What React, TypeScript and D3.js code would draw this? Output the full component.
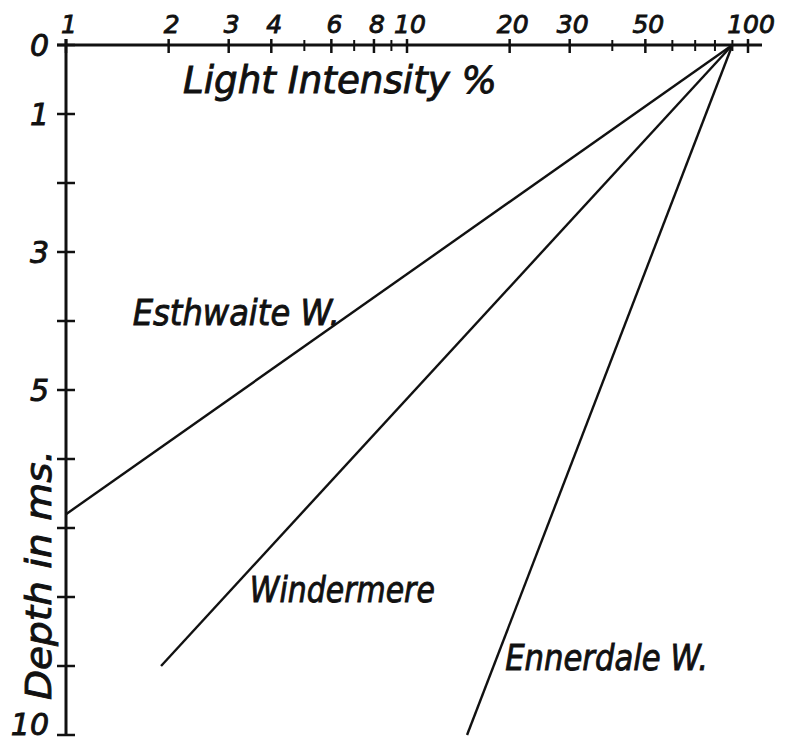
import React, { useEffect, useRef } from 'react';
import * as d3 from 'd3';

// light intensity (% of surface) ticks on the log axis
const xMajorTicks = [1, 2, 3, 4, 6, 8, 10, 20, 30, 50, 100];
const xMinorTicks = [5, 7, 9, 40, 60, 70, 80, 90];
// depth ticks (metres)
const yTicks = [0, 1, 2, 3, 4, 5, 6, 7, 8, 9, 10];
const yLabelled = [0, 1, 3, 5, 10];

const lakeNames = ['Esthwaite W.', 'Windermere', 'Ennerdale W.'];
const esthwaite = [{ light: 90, depth: 0 }, { light: 1, depth: 6.8 }];
const windermere = [{ light: 90, depth: 0 }, { light: 1.9, depth: 9.0 }];
const ennerdale = [{ light: 90, depth: 0 }, { light: 15, depth: 10 }];

const FONT = '"DejaVu Sans", sans-serif';

const LightChart = () => {
  const svgRef = useRef<SVGSVGElement>(null);

  useEffect(() => {
    const svg = d3.select(svgRef.current);
    svg.selectAll('*').remove();

    const width = 786;
    const height = 744;
    svg.attr('width', width).attr('height', height);

    svg.append('rect').attr('width', width).attr('height', height).attr('fill', 'white');

    const x = d3.scaleLog().domain([1, 100]).range([66, 748]);
    const y = d3.scaleLinear().domain([0, 10]).range([45, 735]);

    const ink = '#111';

    // hand-lettered look: a little stroke on the glyphs
    const letter = (sel: any, size: number) =>
      sel.style('font-family', FONT)
        .style('font-style', 'italic')
        .style('font-size', `${size}px`)
        .attr('fill', ink)
        .attr('stroke', ink)
        .attr('stroke-width', 0.9);

    // x axis line along the surface
    svg.append('line')
      .attr('x1', 57).attr('x2', 762)
      .attr('y1', y(0)).attr('y2', y(0))
      .attr('stroke', ink).attr('stroke-width', 3);

    // y axis line
    svg.append('line')
      .attr('x1', x(1)).attr('x2', x(1))
      .attr('y1', y(0) - 6).attr('y2', y(10))
      .attr('stroke', ink).attr('stroke-width', 3);

    svg.selectAll('.xmajor')
      .data(xMajorTicks)
      .enter().append('line')
      .attr('x1', d => x(d)).attr('x2', d => x(d))
      .attr('y1', y(0) - 6).attr('y2', y(0) + 8)
      .attr('stroke', ink).attr('stroke-width', 2.5);

    svg.selectAll('.xminor')
      .data(xMinorTicks)
      .enter().append('line')
      .attr('x1', d => x(d)).attr('x2', d => x(d))
      .attr('y1', y(0) - 5).attr('y2', y(0) + 6)
      .attr('stroke', ink).attr('stroke-width', 2);

    letter(svg.selectAll('.xlabel')
      .data(xMajorTicks)
      .enter().append('text')
      .attr('x', d => x(d) + 3)
      .attr('y', 33)
      .attr('text-anchor', 'middle'), 25)
      .text(d => d);

    svg.selectAll('.ytick')
      .data(yTicks)
      .enter().append('line')
      .attr('x1', x(1) - 9).attr('x2', x(1) + 9)
      .attr('y1', d => y(d)).attr('y2', d => y(d))
      .attr('stroke', ink).attr('stroke-width', 2.5);

    letter(svg.selectAll('.ylabel')
      .data(yLabelled)
      .enter().append('text')
      .attr('x', 49)
      .attr('y', d => y(d) + (d === 10 ? 0 : 11))
      .attr('text-anchor', 'end'), 30)
      .text(d => d);

    // axis titles
    letter(svg.append('text')
      .attr('x', 183).attr('y', 93)
      .attr('textLength', 314).attr('lengthAdjust', 'spacingAndGlyphs'), 37)
      .text('Light Intensity %');

    letter(svg.append('text')
      .attr('transform', 'translate(51,700) rotate(-90)')
      .attr('textLength', 250).attr('lengthAdjust', 'spacingAndGlyphs'), 36)
      .text('Depth in ms.');

    // lake lines
    const line = d3.line<{ light: number; depth: number }>()
      .x(d => x(d.light))
      .y(d => y(d.depth));

    [esthwaite, windermere, ennerdale].forEach(series => {
      svg.append('path')
        .attr('d', line(series))
        .attr('fill', 'none')
        .attr('stroke', ink)
        .attr('stroke-width', 2.4);
    });

    // lake labels, anchored at light/depth positions
    const labelAt = [
      { light: 1.57, depth: 4.06, len: 207 },
      { light: 3.46, depth: 8.07, len: 185 },
      { light: 19.4, depth: 9.06, len: 203 },
    ];
    lakeNames.forEach((name, i) => {
      letter(svg.append('text')
        .attr('x', x(labelAt[i].light))
        .attr('y', y(labelAt[i].depth))
        .attr('textLength', labelAt[i].len).attr('lengthAdjust', 'spacingAndGlyphs'), 35)
        .text(name);
    });
  }, []);

  return <svg ref={svgRef} style={{ position: 'absolute', left: 0, top: 0, display: 'block' }}></svg>;
};

export default function App() {
  return <LightChart />;
}
